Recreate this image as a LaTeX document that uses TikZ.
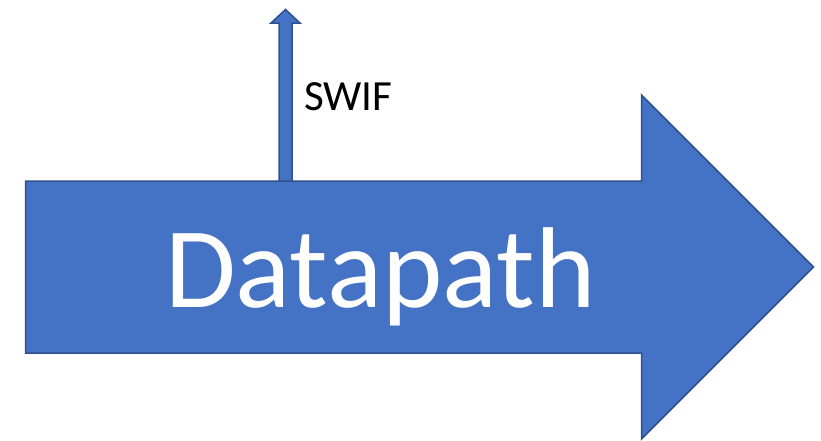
\documentclass[tikz,border=0pt]{standalone}
\usepackage{fontspec}
\setmainfont{Carlito}
\definecolor{arrowfill}{HTML}{4472C4}
\definecolor{arrowline}{HTML}{2F528F}
\begin{document}
\begin{tikzpicture}[x=1pt,y=-1pt,
  shapestyle/.style={fill=arrowfill,draw=arrowline,line width=1.5pt,line join=miter},
  bigtext/.style={text=white,font=\fontsize{115}{120}\selectfont,inner sep=0pt,anchor=base west},
  labeltext/.style={text=black,font=\fontsize{43}{46}\selectfont,inner sep=0pt,anchor=base west}]
\useasboundingbox (0,0) rectangle (821,440);
% big arrow
\draw[shapestyle] (25.5,181) -- (641.5,181) -- (641.5,95) -- (813.5,267) -- (641.5,439) -- (641.5,353) -- (25.5,353) -- cycle;
% small arrow
\draw[shapestyle] (279,181) -- (279,23) -- (271,23) -- (285.5,9.5) -- (300,23) -- (292,23) -- (292,181) -- cycle;
\node[bigtext] (datapath) at (165,307) {Datapath};
\node[labeltext] (swif) at (304,110) {SWIF};
\end{tikzpicture}
\end{document}
